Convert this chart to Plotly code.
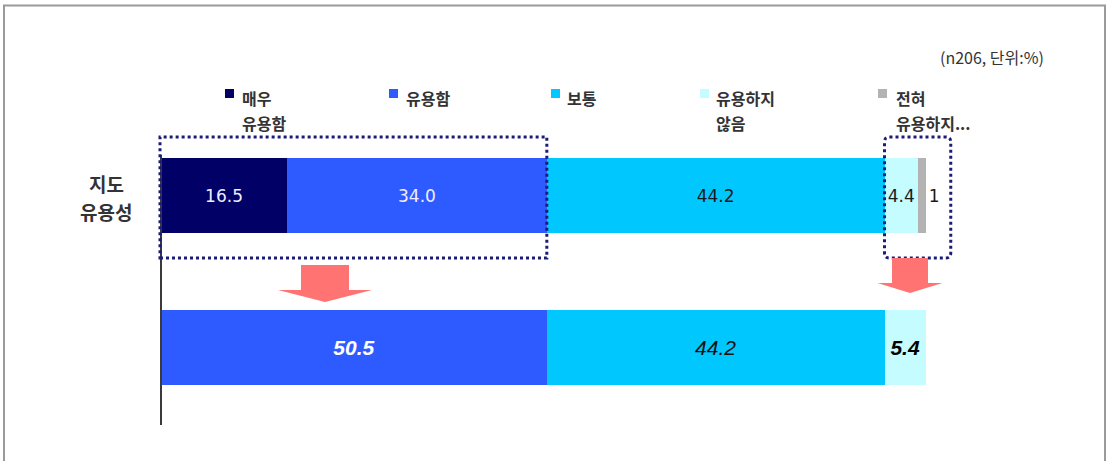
import plotly.graph_objects as go

W, H = 1108, 461

# 응답 범주별 색상과 값
categories = ["매우\n유용함", "유용함", "보통", "유용하지\n않음", "전혀\n유용하지..."]
colors = ["#000066", "#2E5BFF", "#00C8FF", "#C4FCFF", "#B3B3B3"]
detail_values = [16.5, 34.0, 44.2, 4.4, 1]
detail_text_colors = ["#EEEEFF", "#EEEEFF", "#1A1A1A", "#1A1A1A", "#1A1A1A"]

# 유용 / 보통 / 유용하지 않음 합산
summary_groups = ["유용함(합)", "보통", "유용하지 않음(합)"]
summary_values = [50.5, 44.2, 5.4]
summary_colors = ["#2E5BFF", "#00C8FF", "#C4FCFF"]
summary_text_colors = ["#FFFFFF", "#111111", "#000000"]
summary_text_weights = ["bold", "normal", "bold"]

row_label = "지도\n유용성"
note = "(n206, 단위:%)"

# ---- 배치 (픽셀 기준) ----
PX_PER_UNIT = 7.64      # x축 1%당 픽셀
ZERO_PX = 161           # x=0 위치
ROW_PX = 152            # 두 막대 중심 간 거리
ROW1_PY = 195.5         # 위쪽 막대 중심
ML, MR, MT, MB = 138, 144, 130, 30
plot_w = W - ML - MR
plot_h = H - MT - MB


def xd(px):
    return (px - ZERO_PX) / PX_PER_UNIT


def y_at(py):
    return 1 + (ROW1_PY - py) / ROW_PX


def px_paper(px):
    return (px - ML) / plot_w


def py_paper(py):
    return (H - MB - py) / plot_h


x_range = [xd(ML), xd(W - MR)]
y_range = [y_at(H - MB), y_at(MT)]
BAR_W = 75 / ROW_PX

fig = go.Figure()

# 위쪽 막대: 5개 응답 범주
for i, (name, v, c, tc) in enumerate(zip(categories, detail_values, colors, detail_text_colors)):
    last = i == len(detail_values) - 1
    fig.add_trace(go.Bar(
        x=[v], y=[1], orientation="h", width=BAR_W,
        name=name.replace("\n", " "),
        marker=dict(color=c, line=dict(width=0)),
        texttemplate="%{x}" if last else "%{x:.1f}",
        textposition="outside" if last else "inside",
        insidetextanchor="middle", textangle=0, constraintext="none",
        textfont=dict(family="DejaVu Sans", size=17, color=tc),
        outsidetextfont=dict(family="DejaVu Sans", size=17, color=tc),
        cliponaxis=False, showlegend=False, hoverinfo="skip",
    ))

# 아래쪽 막대: 합산 결과
for name, v, c, tc, wt in zip(summary_groups, summary_values, summary_colors,
                              summary_text_colors, summary_text_weights):
    fig.add_trace(go.Bar(
        x=[v], y=[0], orientation="h", width=BAR_W, name=name,
        marker=dict(color=c, line=dict(width=0)),
        texttemplate="%{x:.1f}", textposition="inside",
        insidetextanchor="middle", textangle=0, constraintext="none",
        textfont=dict(family="Liberation Sans", size=21, color=tc,
                      style="italic", weight=wt),
        cliponaxis=False, showlegend=False, hoverinfo="skip",
    ))

shapes = []

# 세로 축선
shapes.append(dict(type="line", xref="x", yref="y", x0=0, x1=0,
                   y0=y_at(425), y1=y_at(155),
                   line=dict(color="#3A3A3A", width=2), layer="above"))

# 점선 강조 상자
DOT = dict(color="#1C1C78", width=3, dash="dot")
pos_end = detail_values[0] + detail_values[1]
shapes.append(dict(type="rect", xref="x", yref="y",
                   x0=xd(160), x1=pos_end, y0=y_at(258), y1=y_at(137),
                   line=DOT, layer="above"))


def rounded_rect(x0, x1, y0, y1, rpx):
    rx = rpx / PX_PER_UNIT
    ry = rpx / ROW_PX
    return (f"M {x0 + rx},{y1} L {x1 - rx},{y1} Q {x1},{y1} {x1},{y1 - ry} "
            f"L {x1},{y0 + ry} Q {x1},{y0} {x1 - rx},{y0} "
            f"L {x0 + rx},{y0} Q {x0},{y0} {x0},{y0 + ry} "
            f"L {x0},{y1 - ry} Q {x0},{y1} {x0 + rx},{y1} Z")


neg_start = sum(detail_values[:3])
total = sum(detail_values)
shapes.append(dict(type="path", xref="x", yref="y",
                   path=rounded_rect(neg_start, total + 25 / PX_PER_UNIT,
                                     y_at(258), y_at(137), 5),
                   line=DOT, layer="above"))


# 아래 방향 화살표
def down_arrow(cx, top, shaft_half, head_half, neck, tip):
    pts = [(cx - shaft_half, top), (cx + shaft_half, top), (cx + shaft_half, neck),
           (cx + head_half, neck), (cx, tip), (cx - head_half, neck),
           (cx - shaft_half, neck)]
    d = "M " + " L ".join(f"{xd(px)},{y_at(py)}" for px, py in pts) + " Z"
    return dict(type="path", xref="x", yref="y", path=d,
                fillcolor="#FF7373", line=dict(width=0), layer="above")


shapes.append(down_arrow(325, 265, 24, 47, 290, 302))
shapes.append(down_arrow(910, 258, 18, 32.5, 283, 293))

# 바깥 테두리
frame = (f"M {px_paper(4)},{py_paper(470)} L {px_paper(4)},{py_paper(5.5)} "
         f"L {px_paper(1105)},{py_paper(5.5)} L {px_paper(1105)},{py_paper(470)}")
shapes.append(dict(type="path", xref="paper", yref="paper", path=frame,
                   line=dict(color="#9A9A9A", width=2)))

annotations = []
KFONT = "Noto Sans CJK KR"

# 범례
LEG_MARK_X = [225, 389, 551, 700, 878]
LEG_TEXT_X = [240, 404, 565, 714, 894]
LEG_LINE_PY = [98, 123]
for name, c, mx, tx in zip(categories, colors, LEG_MARK_X, LEG_TEXT_X):
    shapes.append(dict(type="rect", xref="paper", yref="paper",
                       x0=px_paper(mx), x1=px_paper(mx + 9),
                       y0=py_paper(98), y1=py_paper(89),
                       fillcolor=c, line=dict(width=0)))
    for line, py in zip(name.split("\n"), LEG_LINE_PY):
        annotations.append(dict(xref="paper", yref="paper",
                                x=px_paper(tx), y=py_paper(py),
                                xanchor="left", yanchor="middle", showarrow=False,
                                text=line,
                                font=dict(family=KFONT, size=16, color="#333333",
                                          weight="bold")))

# 행 이름
for line, py in zip(row_label.split("\n"), [183, 211]):
    annotations.append(dict(xref="paper", yref="paper",
                            x=px_paper(106), y=py_paper(py),
                            xanchor="center", yanchor="middle", showarrow=False,
                            text=line,
                            font=dict(family=KFONT, size=19, color="#333333",
                                      weight="bold")))

# 표본 수 / 단위
annotations.append(dict(xref="paper", yref="paper",
                        x=px_paper(1046), y=py_paper(57),
                        xanchor="right", yanchor="middle", showarrow=False,
                        text=note,
                        font=dict(family=KFONT, size=16, color="#333333")))

fig.update_layout(
    width=W, height=H,
    margin=dict(l=ML, r=MR, t=MT, b=MB, pad=0),
    barmode="stack",
    paper_bgcolor="white", plot_bgcolor="white",
    xaxis=dict(range=x_range, visible=False, fixedrange=True),
    yaxis=dict(range=y_range, visible=False, fixedrange=True),
    shapes=shapes, annotations=annotations,
    showlegend=False,
)

fig.write_html("out.html")
